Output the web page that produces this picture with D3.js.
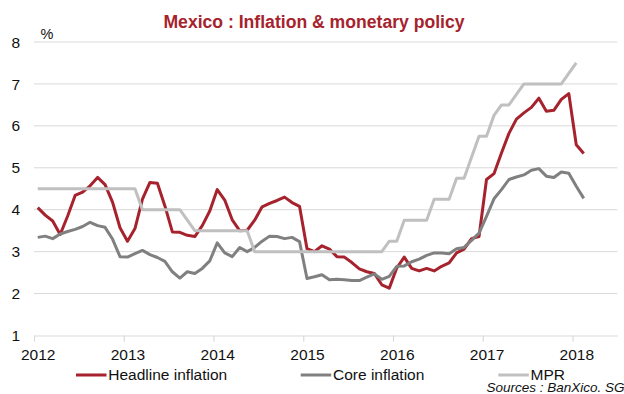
<!DOCTYPE html>
<html>
<head>
<meta charset="utf-8">
<script src="https://cdn.jsdelivr.net/npm/d3@7/dist/d3.min.js"></script>
<style>
  html, body { margin: 0; padding: 0; background: #ffffff; }
  svg { display: block; font-family: "Liberation Sans", Arial, Helvetica, sans-serif; }
</style>
</head>
<body>
<svg id="chart" width="624" height="394"></svg>
<script>
// Monthly series, January 2012 onwards (annual % rates)
const headline = [
  4.05, 3.87, 3.73, 3.41, 3.85, 4.34, 4.42, 4.57, 4.77, 4.60, 4.18, 3.57,
  3.25, 3.55, 4.25, 4.65, 4.63, 4.09, 3.47, 3.46, 3.39, 3.36, 3.62, 3.97,
  4.48, 4.23, 3.76, 3.50, 3.51, 3.75, 4.07, 4.15, 4.22, 4.30, 4.17, 4.08,
  3.07, 3.00, 3.14, 3.06, 2.88, 2.87, 2.74, 2.59, 2.52, 2.48, 2.21, 2.13,
  2.61, 2.87, 2.60, 2.54, 2.60, 2.54, 2.65, 2.73, 2.97, 3.06, 3.31, 3.36,
  4.72, 4.86, 5.35, 5.82, 6.16, 6.31, 6.44, 6.66, 6.35, 6.37, 6.63, 6.77,
  5.55, 5.34
];
const core = [
  3.34, 3.37, 3.31, 3.42, 3.48, 3.53, 3.60, 3.70, 3.62, 3.58, 3.30, 2.88,
  2.87, 2.95, 3.03, 2.93, 2.86, 2.77, 2.52, 2.37, 2.52, 2.48, 2.60, 2.78,
  3.21, 2.97, 2.88, 3.10, 3.00, 3.10, 3.25, 3.37, 3.36, 3.31, 3.34, 3.24,
  2.36, 2.40, 2.45, 2.33, 2.34, 2.33, 2.31, 2.31, 2.39, 2.47, 2.34, 2.41,
  2.65, 2.66, 2.76, 2.82, 2.91, 2.97, 2.97, 2.95, 3.07, 3.10, 3.27, 3.44,
  3.84, 4.26, 4.48, 4.72, 4.78, 4.83, 4.94, 4.98, 4.80, 4.77, 4.90, 4.87,
  4.56, 4.27
];
// Monetary policy rate, end of month
const mpr = [
  4.50, 4.50, 4.50, 4.50, 4.50, 4.50, 4.50, 4.50, 4.50, 4.50, 4.50, 4.50,
  4.50, 4.50, 4.00, 4.00, 4.00, 4.00, 4.00, 4.00, 3.75, 3.50, 3.50, 3.50,
  3.50, 3.50, 3.50, 3.50, 3.50, 3.00, 3.00, 3.00, 3.00, 3.00, 3.00, 3.00,
  3.00, 3.00, 3.00, 3.00, 3.00, 3.00, 3.00, 3.00, 3.00, 3.00, 3.00, 3.25,
  3.25, 3.75, 3.75, 3.75, 3.75, 4.25, 4.25, 4.25, 4.75, 4.75, 5.25, 5.75,
  5.75, 6.25, 6.50, 6.50, 6.75, 7.00, 7.00, 7.00, 7.00, 7.00, 7.00, 7.25,
  7.50
];
const yearLabels = ["2012", "2013", "2014", "2015", "2016", "2017", "2018"];
const monthSlots = 78;            // Jan 2012 .. Jun 2018 on the category axis
const yTicks = [1, 2, 3, 4, 5, 6, 7, 8];

const series = [
  { name: "Headline inflation", values: headline, color: "#a6232d" },
  { name: "Core inflation",     values: core,     color: "#808080" },
  { name: "MPR",                values: mpr,      color: "#c0c0c0" }
];

const svg = d3.select("#chart");
const plotLeft = 34, plotRight = 617.4, plotTop = 42, plotBottom = 335.5;

const x = d3.scaleLinear().domain([0, monthSlots]).range([plotLeft, plotRight]);
const y = d3.scaleLinear().domain([1, 8]).range([plotBottom, plotTop]);

// Title
svg.append("text")
  .attr("x", 314).attr("y", 28)
  .attr("text-anchor", "middle")
  .attr("font-size", 17.6).attr("font-weight", "bold")
  .attr("fill", "#a6232d")
  .text("Mexico : Inflation & monetary policy");

// Horizontal gridlines
svg.append("g")
  .selectAll("line")
  .data(yTicks.filter(v => v > 1))
  .join("line")
  .attr("x1", plotLeft).attr("x2", plotRight)
  .attr("y1", d => y(d)).attr("y2", d => y(d))
  .attr("stroke", "#d9d9d9").attr("stroke-width", 1);

// Y labels
svg.append("g")
  .selectAll("text")
  .data(yTicks)
  .join("text")
  .attr("x", 20).attr("y", d => y(d))
  .attr("dy", "0.36em")
  .attr("text-anchor", "end")
  .attr("font-size", 15.5).attr("fill", "#111")
  .text(d => d);

svg.append("text")
  .attr("x", 40.5).attr("y", 38.5)
  .attr("font-size", 14.5).attr("fill", "#111")
  .text("%");

// Category axis: ticks at each January boundary, year label under the January slot
const xAxis = d3.axisBottom(x)
  .tickValues(yearLabels.map((_, i) => i * 12))
  .tickSize(6)
  .tickSizeOuter(0)
  .tickFormat((d, i) => yearLabels[i]);

const gx = svg.append("g")
  .attr("transform", `translate(0,${plotBottom})`)
  .call(xAxis);
gx.select(".domain").attr("stroke", "#d9d9d9").attr("stroke-width", 1.2);
gx.selectAll(".tick line").attr("stroke", "#d9d9d9").attr("stroke-width", 1.2);
gx.selectAll(".tick text")
  .attr("x", x(0.5) - x(0))
  .attr("y", 13)
  .attr("dy", "0.71em")
  .attr("font-size", 15.5)
  .attr("font-family", "Liberation Sans, Arial, sans-serif")
  .attr("fill", "#111");

// Lines
const line = d3.line()
  .x((d, i) => x(i + 0.5))
  .y(d => y(d))
  .curve(d3.curveLinear);

svg.append("g")
  .selectAll("path")
  .data(series)
  .join("path")
  .attr("d", d => line(d.values))
  .attr("fill", "none")
  .attr("stroke", d => d.color)
  .attr("stroke-width", 3)
  .attr("stroke-linejoin", "round");

// Legend
const legendPos = [76, 300.7, 498.3];
const lg = svg.append("g");
series.forEach((s, i) => {
  lg.append("line")
    .attr("x1", legendPos[i]).attr("x2", legendPos[i] + 30.5)
    .attr("y1", 375).attr("y2", 375)
    .attr("stroke", s.color).attr("stroke-width", 3);
  lg.append("text")
    .attr("x", legendPos[i] + 32.3).attr("y", 380)
    .attr("font-size", 15.5).attr("fill", "#111")
    .text(s.name);
});

// Source note
svg.append("text")
  .attr("x", 486.5).attr("y", 391.5)
  .attr("font-size", 13.5).attr("font-style", "italic")
  .attr("fill", "#111")
  .text("Sources : BanXico. SG");
</script>
</body>
</html>
